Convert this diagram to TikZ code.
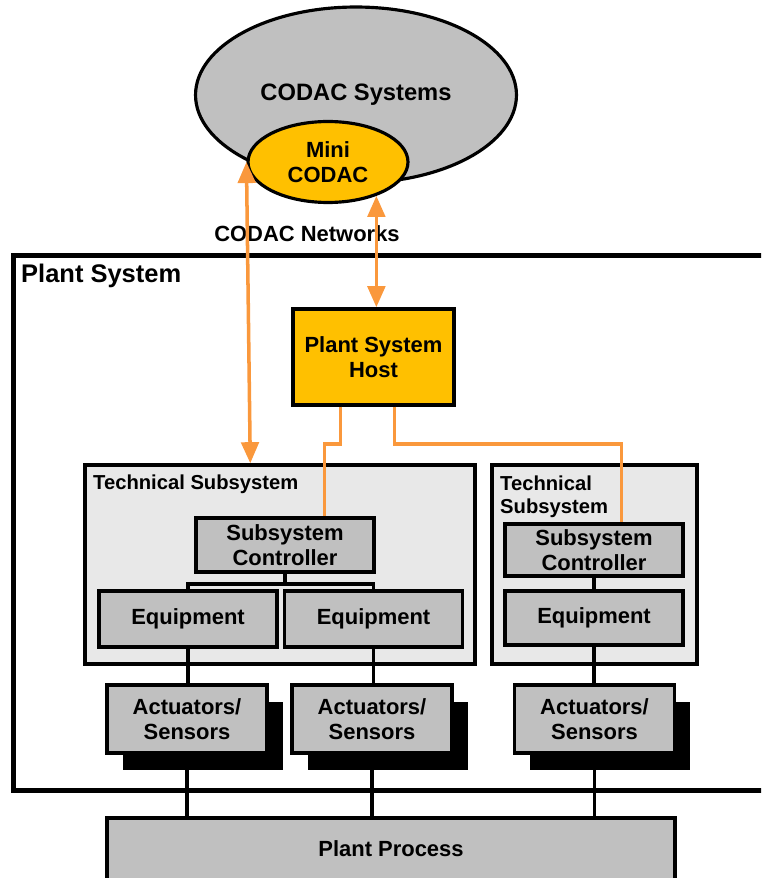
\documentclass[tikz,border=0pt]{standalone}
\usepackage{fontspec}
\setmainfont{Liberation Sans}
\usetikzlibrary{positioning,arrows.meta,shapes.geometric,calc,shadows}
\definecolor{codacgray}{RGB}{192,192,192}
\definecolor{tsgray}   {RGB}{232,232,232}
\definecolor{hostcol}  {RGB}{255,192,0}
\definecolor{linkcol}  {RGB}{250,152,60}

\begin{document}
\begin{tikzpicture}[
  x=0.02cm, y=-0.02cm,
  txt/.style  ={font=\fontsize{12.5}{14.5}\selectfont\bfseries},
  box/.style  ={rectangle,draw,line width=2pt,fill=codacgray,txt,
                align=center,inner sep=0pt,minimum width=3.56cm},
  tsbox/.style={rectangle,draw,line width=2pt,fill=tsgray,
                minimum height=3.98cm},
  actbox/.style={box,minimum width=3.2cm,minimum height=1.36cm,
                 drop shadow={shadow xshift=9pt,shadow yshift=-9.5pt,
                              fill=black,opacity=1}},
  blob/.style ={ellipse,draw,line width=1.8pt,txt,align=center,inner sep=0pt},
  wire/.style ={line width=2pt},
  link/.style ={linkcol,line width=2pt},
  netlink/.style={link,{Triangle[length=12pt,width=10pt]}-{Triangle[length=12pt,width=10pt]}}
]
\useasboundingbox (0,0) rectangle (761,878);
\clip (0,0) rectangle (761,878);
% CODAC side
\node[blob,fill=codacgray,minimum width=6.42cm,minimum height=3.52cm,
      font=\fontsize{13.5}{15}\selectfont\bfseries] (codac) at (356,95) {CODAC Systems};
\node[blob,fill=hostcol,minimum width=3.2cm,minimum height=1.62cm] (mini) at (328,162) {Mini\\CODAC};
\node[txt] (netlabel) at (307,234) {CODAC Networks};
% plant system frame
\node[rectangle,draw,line width=2.8pt,minimum width=15.24cm,minimum height=10.72cm] (plant) at (394,523) {};
\node[anchor=west,font=\fontsize{14.5}{16}\selectfont\bfseries] (pslabel) at (15,276) {Plant System};
\node[box,fill=hostcol,minimum width=3.22cm,minimum height=1.92cm] (host) at (373.5,357) {Plant System\\Host};
% technical subsystems
\node[tsbox,minimum width=7.8cm] (ts1) at (280,564.5) {};
\node[tsbox,minimum width=4.1cm] (ts2) at (594.5,564.5) {};
\node[anchor=west,font=\fontsize{11.5}{13}\selectfont\bfseries] (ts1label) at (87,484) {Technical Subsystem};
\node[anchor=west,align=left,font=\fontsize{11.5}{13}\selectfont\bfseries] (ts2label) at (494,497) {Technical\\Subsystem};
\node[box,minimum height=1.08cm] (ctrl1) at (285,545) {Subsystem\\Controller};
\node[box,minimum height=1.04cm] (ctrl2) at (594,550) {Subsystem\\Controller};
\node[box,minimum height=1.12cm] (eq1) at (188,619) {Equipment};
\node[box,minimum height=1.12cm] (eq2) at (373.5,619) {Equipment};
\node[box,minimum height=1.08cm] (eq3) at (594,618) {Equipment};
% field level
\node[actbox] (act1) at (187,719) {Actuators/\\Sensors};
\node[actbox] (act2) at (372,719) {Actuators/\\Sensors};
\node[actbox] (act3) at (594.5,719) {Actuators/\\Sensors};
\node[box,minimum width=11.36cm,minimum height=1.28cm] (proc) at (391,850) {\raisebox{2pt}{Plant Process}};
% connections
\draw[wire] (ctrl1.south) -- ++(0,10) -| (eq1.north);
\draw[wire] (ctrl1.south) -- ++(0,10) -| (eq2.north);
\draw[wire] (ctrl2.south) -- (eq3.north);
\foreach \e/\a in {eq1/act1,eq2/act2,eq3/act3}{
  \draw[wire] (\e.south) -- (\e.south |- \a.north);
  \draw[wire] (\a.south) -- (\a.south |- proc.north);
}
\draw[link] ($(host.south west)+(49,0)$) -- ++(0,37) -| ($(ctrl1.north west)+(130,0)$);
\draw[link] ($(host.south west)+(103,0)$) -- ++(0,37) -| ($(ctrl2.north west)+(118,0)$);
\draw[netlink] (mini.west) -- ($(ts1.north west)+(167,0)$);
\draw[netlink] (mini.-35) -- (mini.-35 |- host.north);
\end{tikzpicture}
\end{document}
